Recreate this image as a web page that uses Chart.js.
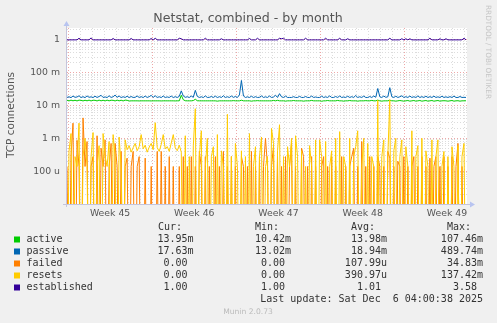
<!DOCTYPE html>
<html>
<head>
<meta charset="utf-8">
<title>Netstat, combined - by month</title>
<script src="https://cdn.jsdelivr.net/npm/chart.js@4.4.1/dist/chart.umd.min.js"></script>
<style>
  html, body { margin: 0; padding: 0; background: #f0f0f0; }
  #wrap { width: 497px; height: 323px; }
</style>
</head>
<body>
<div id="wrap"><canvas id="netstatChart" width="497" height="323"></canvas></div>
<script>
// time axis: hours relative to Mon 3 Nov 2025 00:00, one sample every 4 hours
const startHour = -2;
const stepHours = 4;
const endHour = 796;
const weekLabels = ["Week 45", "Week 46", "Week 47", "Week 48", "Week 49"];
const yTickLabels = { "0": "1", "-1": "100 m", "-2": "10 m", "-3": "1 m", "-4": "100 u" };

// active, milli-connections/s
const activeM = [
  14.5,13.8,14.6,13.9,14.5,13.8,14.6,14.4,13.8,14.5,13.9,14.6,13.8,14.5,14.4,13.8,14.6,13.9,14.5,13.8,
  14.6,13.9,14.5,14.4,13.8,14.6,13.9,14.5,13.8,14.6,14.4,13.7,13.9,13.9,13.9,13.9,13.8,13.9,13.9,13.9,
  13.9,13.9,13.8,13.9,13.9,13.9,13.9,13.8,13.9,13.9,13.9,13.9,13.9,13.9,13.8,13.9,13.9,20.5,15.0,14.0,
  13.9,13.9,13.9,14.2,15.5,14.0,13.9,13.9,13.9,13.9,13.9,13.9,13.9,13.9,13.9,13.6,13.9,13.9,13.9,13.9,
  13.9,13.9,13.9,14.1,13.9,13.9,13.9,14.5,13.9,13.9,13.9,13.9,13.6,13.9,13.9,14.1,13.9,13.9,13.9,13.9,
  13.9,13.9,13.9,14.3,13.9,14.4,13.9,13.9,13.9,13.6,13.9,13.9,13.9,14.2,13.9,13.9,13.9,13.9,13.6,13.9,
  13.9,13.9,14.3,13.9,13.9,13.9,13.9,13.5,13.9,13.9,14.2,13.9,13.9,13.9,13.9,14.3,13.9,13.9,13.6,13.9,
  13.9,14.2,13.9,13.9,13.9,13.6,13.9,13.9,13.9,14.1,13.9,13.9,14.3,13.9,13.9,14.6,13.9,13.6,13.9,13.9,
  13.9,14.5,13.9,13.9,13.6,13.9,14.2,13.9,13.6,13.9,14.2,13.6,13.9,14.2,13.6,13.9,14.2,13.6,13.9,14.2,
  13.6,13.9,14.2,13.6,13.9,14.2,13.6,13.9,14.0,13.9,13.6,13.9,14.2,13.6,13.9,14.0,13.6,13.9,13.9,13.95
];

// passive, milli-connections/s
const passiveM = [
  17.6,18.5,17.4,19.5,17.8,18.2,19.8,17.5,18.6,17.4,19.6,17.8,18.4,17.5,19.2,17.6,18.8,20.5,17.6,18.3,
  17.5,19.8,17.6,18.5,20.8,17.8,19.5,17.5,18.5,17.6,19.2,17.5,18.8,17.6,17.8,19.5,17.6,18.6,17.5,19.4,
  17.6,18.6,20.4,17.7,19.8,17.6,18.5,17.5,19.5,17.6,18.3,17.6,19.4,17.5,18.6,17.6,19.0,28.0,19.5,17.8,
  18.5,17.6,19.4,17.8,29.0,19.0,17.6,18.5,17.5,19.6,17.6,17.8,18.8,17.6,19.3,17.5,18.6,17.6,19.8,17.6,
  18.5,17.6,19.5,17.7,18.8,17.6,21.0,58.0,19.5,17.6,18.4,17.6,19.2,17.5,18.6,17.6,17.8,19.6,17.6,18.4,
  17.6,19.5,17.6,18.2,20.6,17.6,23.0,18.4,17.6,19.4,17.6,17.6,17.6,18.6,17.6,17.6,19.0,17.6,17.6,18.8,
  17.6,17.6,19.4,17.6,18.2,17.6,17.6,19.3,17.6,18.4,17.6,19.6,17.6,17.6,18.8,17.6,19.5,17.6,18.2,17.6,
  19.2,17.6,18.6,17.6,20.2,17.6,18.5,17.6,19.4,17.6,17.6,18.8,17.6,19.5,17.8,33.0,18.5,17.6,19.4,17.8,
  18.4,35.0,18.6,17.6,19.2,17.6,18.5,19.8,17.6,18.6,17.6,19.4,17.6,18.5,17.6,19.6,17.6,18.6,17.6,19.2,
  17.6,18.6,17.6,19.3,17.6,18.4,17.6,19.2,17.6,18.4,17.6,18.6,17.6,19.4,17.6,17.6,18.8,17.6,17.8,17.63
];

// failed, micro-connections/s
const failedU = [
  139,0,278,2900,0,870,139,0,4200,139,800,0,139,278,0,1200,0,500,139,900,
  0,139,700,0,700,139,0,400,0,139,250,0,139,400,0,139,278,0,0,250,
  0,0,139,0,0,400,0,400,0,139,0,278,0,139,0,0,139,0,278,0,
  139,0,278,0,139,0,400,139,0,278,0,139,0,0,278,0,139,0,400,0,
  139,0,278,0,139,0,0,278,139,0,139,0,400,0,139,0,278,0,139,1000,
  139,0,139,600,0,278,0,139,0,278,0,139,700,0,139,0,0,500,278,0,
  139,0,278,0,139,0,0,139,278,0,139,0,278,0,139,0,0,278,0,139,
  0,139,278,500,0,139,0,800,0,139,0,278,0,139,0,278,139,0,139,0,
  400,250,0,139,0,200,139,0,278,0,139,0,139,278,0,139,0,278,0,139,
  0,250,0,139,278,0,139,0,278,0,139,0,278,0,139,700,0,139,0,0
];

// resets, micro-connections/s
const resetsU = [
  0,400,1400,0,278,139,2900,0,278,1000,139,0,278,1500,0,139,600,0,1400,278,
  139,800,0,1300,278,0,1100,139,0,900,450,600,380,520,700,420,560,1300,480,620,
  380,540,700,450,3000,520,400,650,1300,480,560,400,720,1300,500,420,620,380,0,1200,
  0,278,0,600,8000,0,278,1700,0,139,1000,0,278,556,0,1300,0,417,139,0,
  5400,0,278,0,700,139,0,417,0,278,0,1400,0,139,556,0,278,1100,0,139,
  278,0,2000,700,0,417,2600,0,278,0,556,139,1000,0,1200,278,0,417,0,139,
  0,600,139,0,900,0,900,278,0,800,0,139,417,0,1000,0,1600,0,278,139,
  0,1000,0,278,556,1700,0,139,1000,0,700,0,278,139,0,14500,0,278,900,0,
  278,15000,0,417,1000,0,278,900,0,556,139,0,1700,0,278,600,0,1000,0,417,
  139,0,900,0,278,900,0,139,400,0,278,0,556,139,0,600,0,278,700,0
];

// established connections
const established = [
  1,1,1,1,1,1,1.12,1,1,1,1,1,1.15,1,1,1,1,1,1,1,
  1,1,1,1.1,1,1,1,1,1,1,1,1,1.1,1,1,1,1,1,1,1,
  1,1,1.1,1,1.12,1,1,1,1,1,1,1,1,1,1,1,1.12,1.08,1,1,
  1,1,1,1,1,1,1,1,1,1.12,1,1,1,1,1,1,1,1.08,1,1,
  1,1,1,1,1,1,1,1,1,1,1,1.1,1,1,1,1.12,1,1,1,1,
  1,1,1,1,1,1,1.12,1.08,1.12,1,1,1,1,1,1,1,1,1,1,1.12,
  1,1,1,1,1,1,1,1,1,1.12,1,1,1,1,1,1,1.12,1,1,1,
  1.08,1,1,1,1,1,1,1,1,1,1,1,1,1,1,1,1,1,1,1,
  1,1.12,1,1,1,1,1,1.08,1,1.08,1,1.08,1,1,1,1,1,1,1,1,
  1,1.12,1,1,1,1,1.08,1,1,1.08,1,1,1,1,1,1,1,1,1.12,1
];

// legend table text
const seriesNames = ["active", "passive", "failed", "resets", "established"];
const seriesColors = ["#00cc00", "#0066b3", "#ff8000", "#ffcc00", "#330099"];
const curValues = ["13.95m", "17.63m", "0.00 ", "0.00 ", "1.00 "];
const minValues = ["10.42m", "13.02m", "0.00 ", "0.00 ", "1.00 "];
const avgValues = ["13.98m", "18.94m", "107.99u", "390.97u", "1.01 "];
const maxValues = ["107.46m", "489.74m", "34.83m", "137.42m", "3.58 "];

const RED_GRID = "rgba(230,130,130,0.7)";
const GRAY_GRID = "rgba(185,185,185,0.5)";
const NONE = "rgba(0,0,0,0)";
// a log axis cannot show 0: rrdtool sends it to the floor, so do the same
const FLOOR = 1e-9;

function toPoints(values, unit) {
  return values.map((v, i) => ({ x: startHour + i * stepHours, y: v === 0 ? FLOOR : v * unit }));
}

function isDecade(v) {
  const e = Math.log10(v);
  return Math.abs(e - Math.round(e)) < 1e-9;
}

const muninDecor = {
  id: "muninDecor",
  beforeDraw(chart) {
    const { ctx, chartArea: a } = chart;
    ctx.save();
    ctx.fillStyle = "#f0f0f0";
    ctx.fillRect(0, 0, chart.width, chart.height);
    ctx.fillStyle = "#ffffff";
    ctx.fillRect(a.left, a.top, a.right - a.left, a.bottom - a.top);
    ctx.restore();
  },
  afterDraw(chart) {
    const { ctx, chartArea: a } = chart;
    ctx.save();

    // axes with arrows
    ctx.strokeStyle = "#c4c4dc";
    ctx.lineWidth = 1;
    ctx.beginPath();
    ctx.moveTo(a.left - 0.5, a.bottom + 3);
    ctx.lineTo(a.left - 0.5, a.top - 3);
    ctx.moveTo(a.left - 4, a.bottom + 0.5);
    ctx.lineTo(a.right + 4, a.bottom + 0.5);
    ctx.stroke();
    ctx.fillStyle = "#b8c4f0";
    ctx.beginPath();
    ctx.moveTo(a.left - 3.5, a.top - 2);
    ctx.lineTo(a.left + 2.5, a.top - 2);
    ctx.lineTo(a.left - 0.5, a.top - 7);
    ctx.closePath();
    ctx.fill();
    ctx.beginPath();
    ctx.moveTo(a.right + 3, a.bottom - 2.5);
    ctx.lineTo(a.right + 3, a.bottom + 3.5);
    ctx.lineTo(a.right + 8, a.bottom + 0.5);
    ctx.closePath();
    ctx.fill();

    // title
    ctx.fillStyle = "#555555";
    ctx.font = "12.6px 'DejaVu Sans'";
    ctx.textAlign = "center";
    ctx.textBaseline = "middle";
    ctx.fillText("Netstat, combined - by month", 248, 19);

    // y axis title
    ctx.save();
    ctx.translate(11, 115);
    ctx.rotate(-Math.PI / 2);
    ctx.font = "10.5px 'DejaVu Sans'";
    ctx.fillText("TCP connections", 0, 0);
    ctx.restore();

    // side watermark
    ctx.save();
    ctx.translate(488, 5);
    ctx.rotate(Math.PI / 2);
    ctx.fillStyle = "#c6c6c6";
    ctx.font = "7.3px 'DejaVu Sans'";
    ctx.textAlign = "left";
    ctx.fillText("RRDTOOL / TOBI OETIKER", 0, 0);
    ctx.restore();

    // legend table
    ctx.font = "10px 'DejaVu Sans Mono'";
    ctx.fillStyle = "#333333";
    ctx.textAlign = "left";
    ctx.fillText("Cur:", 158, 227.5);
    ctx.fillText("Min:", 255, 227.5);
    ctx.fillText("Avg:", 351, 227.5);
    ctx.fillText("Max:", 447, 227.5);
    const rowY = [239.5, 251.5, 263.5, 275.5, 287.5];
    seriesNames.forEach((name, i) => {
      const y = rowY[i];
      ctx.fillStyle = seriesColors[i];
      ctx.fillRect(14, y - 3, 6, 6);
      ctx.fillStyle = "#333333";
      ctx.textAlign = "left";
      ctx.fillText(name, 26.5, y);
      ctx.textAlign = "right";
      ctx.fillText(curValues[i], 193.5, y);
      ctx.fillText(minValues[i], 291, y);
      ctx.fillText(avgValues[i], 387, y);
      ctx.fillText(maxValues[i], 483, y);
    });
    ctx.textAlign = "right";
    ctx.fillText("Last update: Sat Dec  6 04:00:38 2025", 483, 299.5);

    ctx.textAlign = "center";
    ctx.fillStyle = "#bbbbbb";
    ctx.font = "7.6px 'DejaVu Sans'";
    ctx.fillText("Munin 2.0.73", 248, 312);
    ctx.restore();
  }
};

const lineStyle = { borderWidth: 1, pointRadius: 0, tension: 0, fill: false };

new Chart(document.getElementById("netstatChart"), {
  type: "line",
  data: {
    datasets: [
      { ...lineStyle, label: "active", data: toPoints(activeM, 1e-3), borderColor: seriesColors[0], order: 5 },
      { ...lineStyle, label: "passive", data: toPoints(passiveM, 1e-3), borderColor: seriesColors[1], order: 4 },
      { ...lineStyle, label: "failed", data: toPoints(failedU, 1e-6), borderColor: seriesColors[2], order: 3 },
      { ...lineStyle, label: "resets", data: toPoints(resetsU, 1e-6), borderColor: seriesColors[3], order: 2 },
      { ...lineStyle, label: "established", data: toPoints(established, 1), borderColor: seriesColors[4], order: 1 }
    ]
  },
  options: {
    responsive: false,
    animation: false,
    devicePixelRatio: 1,
    layout: { padding: { left: 0, top: 28, right: 30, bottom: 0 } },
    plugins: { legend: { display: false }, tooltip: { enabled: false } },
    scales: {
      x: {
        type: "linear",
        min: startHour,
        max: endHour,
        afterBuildTicks: scale => {
          const ticks = [];
          for (let h = 0; h <= 792; h += 12) ticks.push({ value: h });
          scale.ticks = ticks;
        },
        afterFit: scale => { scale.height = 119; },
        grid: {
          drawTicks: false,
          lineWidth: 1,
          color: c => {
            const v = c.tick ? c.tick.value : 1;
            if (v % 168 === 0) return RED_GRID;
            if (v % 24 === 0) return GRAY_GRID;
            return NONE;
          }
        },
        border: { display: false, dash: [1, 2] },
        ticks: {
          autoSkip: false,
          maxRotation: 0,
          padding: 4,
          color: "#555555",
          font: { family: "DejaVu Sans", size: 9.33 },
          callback: v => ((v - 84) % 168 === 0 ? weekLabels[(v - 84) / 168] : "")
        }
      },
      y: {
        type: "logarithmic",
        min: 1e-5,
        max: 2.3,
        bounds: "data",
        afterBuildTicks: scale => {
          const ticks = [];
          for (let e = -5; e <= 0; e++) {
            for (let m = 1; m <= 9; m++) {
              const v = m * Math.pow(10, e);
              if (v <= 2.3) ticks.push({ value: v });
            }
          }
          scale.ticks = ticks;
        },
        afterFit: scale => { scale.width = 67; },
        grid: {
          drawTicks: false,
          lineWidth: 1,
          color: c => {
            const v = c.tick ? c.tick.value : 1;
            if (v < 1.5e-5) return NONE;
            return isDecade(v) ? RED_GRID : GRAY_GRID;
          }
        },
        border: { display: false, dash: [1, 2] },
        ticks: {
          autoSkip: false,
          padding: 7,
          color: "#555555",
          font: { family: "DejaVu Sans", size: 9.33 },
          callback: v => {
            if (!isDecade(v)) return "";
            return yTickLabels[String(Math.round(Math.log10(v)))] || "";
          }
        }
      }
    }
  },
  plugins: [muninDecor]
});
</script>
</body>
</html>
